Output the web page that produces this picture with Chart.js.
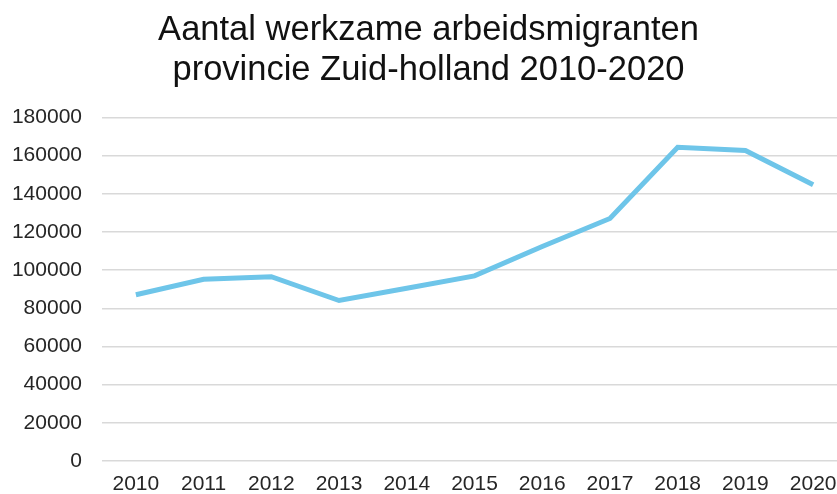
<!DOCTYPE html>
<html>
<head>
<meta charset="utf-8">
<script src="https://cdn.jsdelivr.net/npm/chart.js@4/dist/chart.umd.min.js"></script>
<style>
  html, body { margin: 0; padding: 0; background: #fff; overflow: hidden; }
  #wrap { width: 837px; height: 494px; overflow: hidden; }
</style>
</head>
<body>
<div id="wrap">
  <canvas id="graph" width="860" height="494"></canvas>
</div>
<script>
// jaren en aantallen
const years = ['2010', '2011', '2012', '2013', '2014', '2015', '2016', '2017', '2018', '2019', '2020'];
const migrants = [87100, 95200, 96600, 84100, 90500, 97000, 112400, 127100, 164400, 162700, 144800];
const yTicks = [0, 20000, 40000, 60000, 80000, 100000, 120000, 140000, 160000, 180000];
const titleLines = ['Aantal werkzame arbeidsmigranten', 'provincie Zuid-holland 2010-2020'];

const font = "'Liberation Sans', Arial, sans-serif";

new Chart('graph', {
  type: 'line',
  data: {
    labels: years,
    datasets: [{
      data: migrants,
      borderColor: '#6ec5e9',
      borderWidth: 5,
      pointRadius: 0,
      tension: 0,
      fill: false
    }]
  },
  options: {
    responsive: false,
    animation: false,
    layout: { padding: { left: 10, right: 13, top: 0, bottom: 0 } },
    plugins: {
      legend: { display: false },
      tooltip: { enabled: false },
      title: {
        display: true,
        text: titleLines,
        color: '#111',
        font: { family: font, size: 34.5, weight: 'normal', lineHeight: 1.16 },
        padding: { top: 10, bottom: 27.5 }
      }
    },
    scales: {
      x: {
        offset: true,
        grid: { display: false, drawTicks: false },
        border: { display: false },
        ticks: { color: '#262626', font: { family: font, size: 21 }, padding: 11, maxRotation: 0 },
        afterFit: axis => { axis.height = 33; }
      },
      y: {
        min: yTicks[0],
        max: yTicks[yTicks.length - 1],
        afterBuildTicks: axis => { axis.ticks = yTicks.map(v => ({ value: v })); },
        grid: { color: '#d9d9d9', lineWidth: 1.5, drawTicks: false },
        border: { display: false },
        ticks: { color: '#262626', font: { family: font, size: 21 }, padding: 20, callback: v => String(v) },
        afterFit: axis => { axis.width = 92; }
      }
    }
  }
});
</script>
</body>
</html>
